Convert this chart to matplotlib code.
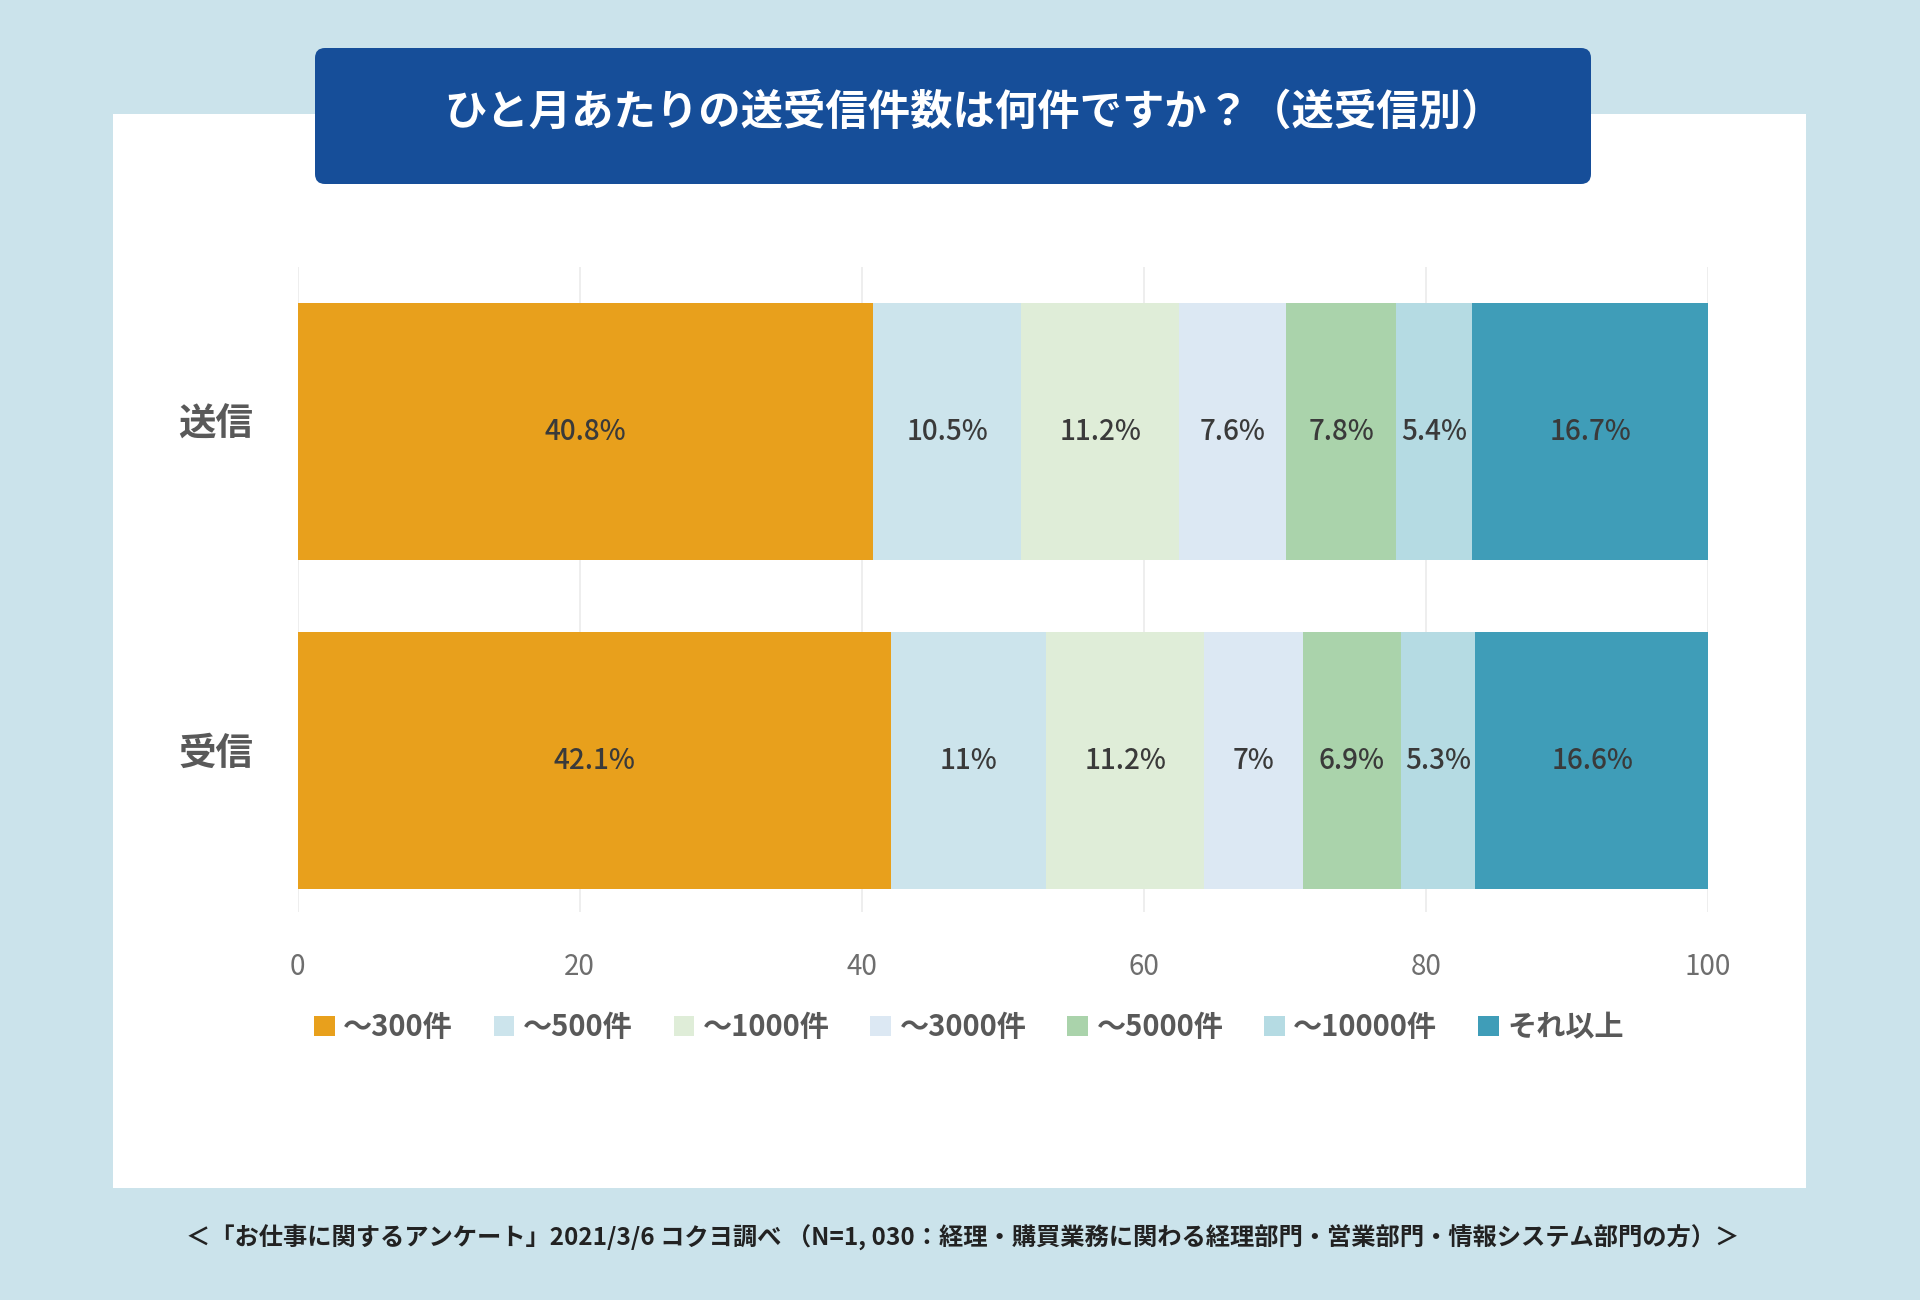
import matplotlib.pyplot as plt
from matplotlib.patches import Rectangle, FancyBboxPatch, Patch
import numpy as np

plt.rcParams['font.family'] = ['Noto Sans CJK JP', 'DejaVu Sans']

categories = ['送信', '受信']
series = ['～300件', '～500件', '～1000件', '～3000件', '～5000件', '～10000件', 'それ以上']
sent = [40.8, 10.5, 11.2, 7.6, 7.8, 5.4, 16.7]
received = [42.1, 11, 11.2, 7, 6.9, 5.3, 16.6]
colors = ['#E8A01C', '#CCE4EC', '#DFEDD8', '#DCE8F3', '#AAD3AB', '#B5DBE3', '#3F9DB8']
xticks = [0, 20, 40, 60, 80, 100]

title = 'ひと月あたりの送受信件数は何件ですか？（送受信別）'
footer = '＜「お仕事に関するアンケート」2021/3/6 コクヨ調べ （N=1, 030：経理・購買業務に関わる経理部門・営業部門・情報システム部門の方）＞'

W, H = 1920, 1300
fig = plt.figure(figsize=(W / 100, H / 100), dpi=100)
fig.patch.set_facecolor('#CBE3EB')

# background layer in pixel coords
bg = fig.add_axes([0, 0, 1, 1], zorder=0)
bg.set_xlim(0, W)
bg.set_ylim(H, 0)
bg.axis('off')
bg.add_patch(Rectangle((113, 114), 1806 - 113, 1188 - 114, facecolor='white', edgecolor='none'))
bg.add_patch(FancyBboxPatch((315, 48), 1591 - 315, 184 - 48,
                            boxstyle='round,pad=0,rounding_size=10',
                            facecolor='#164E99', edgecolor='none'))
bg.text(974, 113, title, color='white', fontsize=30.5, fontweight='bold',
        ha='center', va='center')
bg.text(963, 1238, footer, color='#222222', fontsize=17.5, fontweight='bold',
        ha='center', va='center')

ax = fig.add_axes([297.5 / W, 1 - 912 / H, (1708 - 297.5) / W, (912 - 267) / H], zorder=1)
ax.set_facecolor('none')

data = np.array([sent, received])
y = np.arange(len(categories))
left = np.zeros(len(categories))
for j, name in enumerate(series):
    vals = data[:, j]
    ax.barh(y, vals, left=left, height=0.783, color=colors[j], label=name, zorder=2)
    for i, v in enumerate(vals):
        ax.text(left[i] + v / 2, y[i], f'{v:g}%', ha='center', va='center',
                fontsize=20, fontweight='medium', color='#3A3A3A', zorder=3)
    left += vals

ax.set_xlim(0, 100)
ax.set_ylim(1.46, -0.5)
ax.set_xticks(xticks)
ax.set_xticklabels([str(t) for t in xticks])
ax.set_yticks([])
# category labels, sitting a little above the bar centre like the original
for i, cat in enumerate(categories):
    ax.annotate(cat, xy=(0, y[i]), xycoords=('axes fraction', 'data'),
                xytext=(-32, 5), textcoords='offset points', ha='right', va='center',
                fontsize=27, fontweight='bold', color='#595959')
ax.tick_params(axis='x', length=0, pad=29, labelsize=20, labelcolor='#6E6E6E')
ax.grid(axis='x', color='#EBEBEB', linewidth=1.2, zorder=0)
ax.set_axisbelow(True)
for s in ax.spines.values():
    s.set_visible(False)

handles = [Patch(facecolor=c, edgecolor='none') for c in colors]
leg = fig.legend(handles, series, loc='center', bbox_to_anchor=(969 / W, 1 - 1027 / H),
                 ncol=len(series), frameon=False, handlelength=0.7, handleheight=0.7,
                 handletextpad=0.3, columnspacing=1.4,
                 prop={'size': 21, 'weight': 'bold'})
for t in leg.get_texts():
    t.set_color('#595959')

fig.savefig('out.png', dpi=100, facecolor=fig.get_facecolor())
